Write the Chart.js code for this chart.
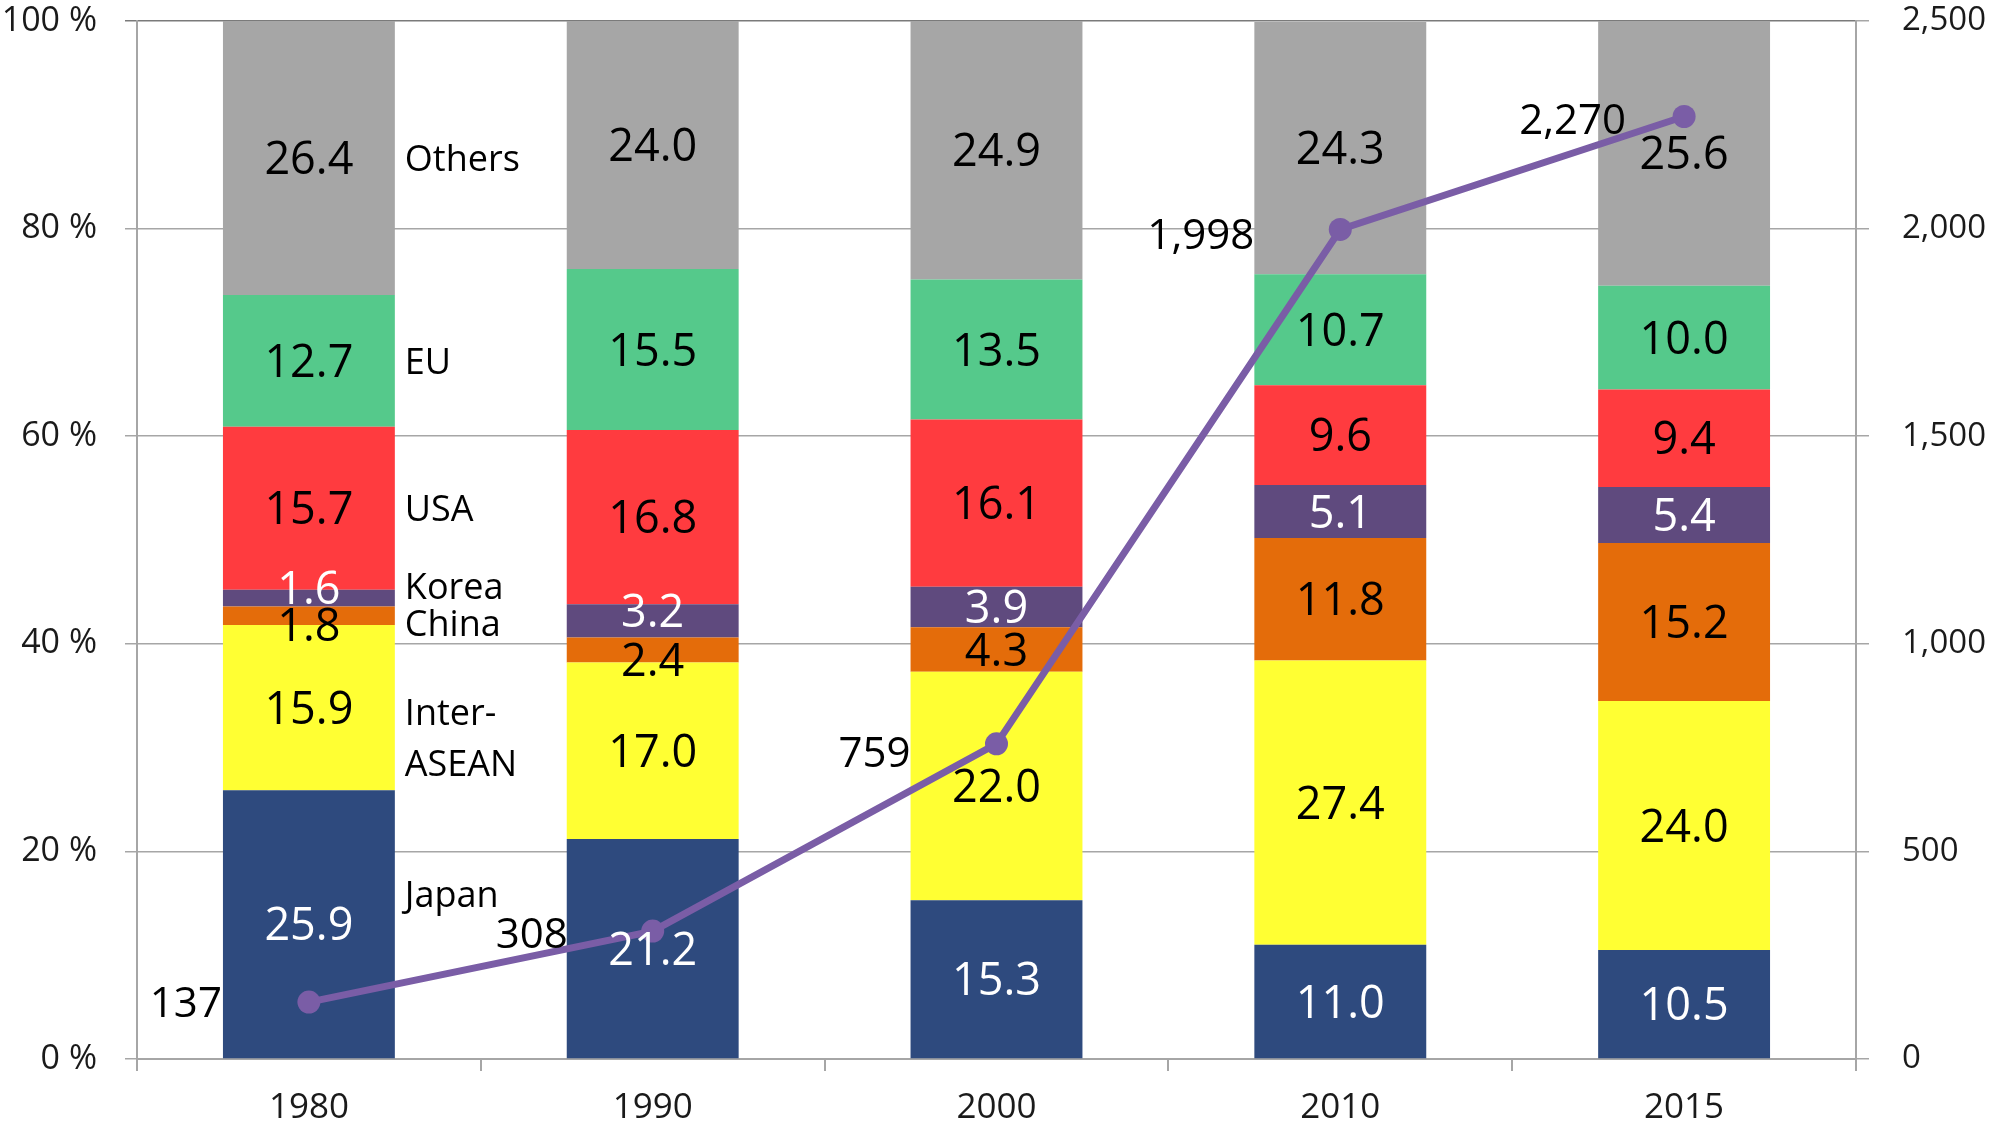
<!DOCTYPE html>
<html>
<head>
<meta charset="utf-8">
<script src="https://cdn.jsdelivr.net/npm/chart.js@4/dist/chart.umd.min.js"></script>
<style>
html,body{margin:0;padding:0;background:#fff;}
canvas{display:block;}
</style>
</head>
<body>
<canvas id="c" width="2001" height="1124"></canvas>
<script>
// ---- data ----
const years = ['1980', '1990', '2000', '2010', '2015'];
const japan      = [25.9, 21.2, 15.3, 11.0, 10.5];
const interAsean = [15.9, 17.0, 22.0, 27.4, 24.0];
const china      = [1.8, 2.4, 4.3, 11.8, 15.2];
const korea      = [1.6, 3.2, 3.9, 5.1, 5.4];
const usa        = [15.7, 16.8, 16.1, 9.6, 9.4];
const eu         = [12.7, 15.5, 13.5, 10.7, 10.0];
const others     = [26.4, 24.0, 24.9, 24.3, 25.6];
const totalTrade = [137, 308, 759, 1998, 2270];
const seriesNames = [['Japan'], ['Inter-', 'ASEAN'], ['China'], ['Korea'], ['USA'], ['EU'], ['Others']];

// ---- styles ----
const colors = ['#2E4A7E', '#FFFF33', '#E46C0A', '#5F4A7E', '#FF3B3F', '#55C98B', '#A6A6A6'];
const textColors = ['#ffffff', '#000000', '#000000', '#ffffff', '#000000', '#000000', '#000000'];
const lineColor = '#7A5DA6';
const FONT = '"Open Sans", "Noto Sans", sans-serif';
const gridColor = '#A6A6A6';

const seriesData = [japan, interAsean, china, korea, usa, eu, others];

// label nudges in pixels (style only)
const valueNudge = {'0-3': -10, '0-2': 9, '1-3': -10, '1-2': 10};
const nameNudge = [-30, 30, 7, -12, 0, 0, 0];
const lineLabelGap = [87, 85, 86, 86, 58];
const lineLabelDy = [0, 2, 8, 5, 3];

const barDatasets = seriesData.map((d, i) => ({
  type: 'bar',
  label: seriesNames[i].join(''),
  data: d,
  backgroundColor: colors[i],
  borderWidth: 0,
  yAxisID: 'y',
  stack: 's',
  order: 2,
  categoryPercentage: 1.0,
  barPercentage: 0.5
}));

const lineDataset = {
  type: 'line',
  label: 'Total trade',
  data: totalTrade,
  yAxisID: 'y2',
  borderColor: lineColor,
  backgroundColor: lineColor,
  borderWidth: 7,
  pointRadius: 11.5,
  pointBackgroundColor: lineColor,
  pointBorderWidth: 0,
  fill: false,
  tension: 0,
  order: 1
};

function drawDigits(ctx, text, x, cy, size, color, align) {
  ctx.font = size + 'px ' + FONT;
  ctx.fillStyle = color;
  ctx.textAlign = align;
  ctx.textBaseline = 'alphabetic';
  ctx.fillText(text, x, cy + size * 0.357);
}

const labelPlugin = {
  id: 'labels',
  afterDatasetsDraw(chart) {
    const ctx = chart.ctx;
    ctx.save();
    for (let i = 0; i < seriesData.length; i++) {
      const meta = chart.getDatasetMeta(i);
      meta.data.forEach((el, j) => {
        const cy = (el.y + el.base) / 2 + (valueNudge[j + '-' + i] || 0);
        drawDigits(ctx, seriesData[i][j].toFixed(1), el.x, cy, 45, textColors[i], 'center');
      });
      const first = meta.data[0];
      const props = first.getProps(['x', 'y', 'base', 'width'], true);
      const midY = (props.y + props.base) / 2 + nameNudge[i];
      const lines = seriesNames[i];
      const lh = 51;
      const x0 = props.x + props.width / 2 + 10;
      lines.forEach((t, k) => {
        const cy = midY + (k - (lines.length - 1) / 2) * lh;
        ctx.font = '36px ' + FONT;
        ctx.fillStyle = '#000';
        ctx.textAlign = 'left';
        ctx.textBaseline = 'alphabetic';
        ctx.fillText(t, x0, cy + 36 * 0.357);
      });
    }
    const lm = chart.getDatasetMeta(seriesData.length);
    lm.data.forEach((pt, j) => {
      drawDigits(ctx, totalTrade[j].toLocaleString('en-US'), pt.x - lineLabelGap[j], pt.y + lineLabelDy[j], 42, '#000', 'right');
    });
    ctx.restore();
  }
};

new Chart(document.getElementById('c'), {
  type: 'bar',
  data: { labels: years, datasets: [...barDatasets, lineDataset] },
  options: {
    responsive: false,
    animation: false,
    devicePixelRatio: 1,
    layout: { padding: { top: 21, left: 0, right: 0, bottom: 0 } },
    plugins: { legend: { display: false }, tooltip: { enabled: false } },
    scales: {
      x: {
        stacked: true,
        offset: true,
        grid: { display: true, drawOnChartArea: false, drawTicks: true, tickLength: 12, offset: true, color: gridColor, lineWidth: 2 },
        border: { display: true, color: gridColor, width: 2 },
        ticks: { color: '#1a1a1a', font: { family: FONT, size: 35 }, padding: 16, maxRotation: 0 },
        afterFit(s) { s.height = 65; s.paddingLeft = 0; s.paddingRight = 0; }
      },
      y: {
        stacked: true,
        position: 'left',
        min: 0, max: 100,
        grid: {
          color: (c) => (c.tick && c.tick.value === 100) ? '#7a7a7a' : gridColor,
          lineWidth: 1.5, tickLength: 12, drawTicks: true
        },
        border: { display: true, color: gridColor, width: 2 },
        ticks: { stepSize: 20, color: '#1a1a1a', font: { family: FONT, size: 34 }, padding: 28,
          callback: (v) => v + ' %' },
        afterFit(s) { s.width = 137; s.paddingTop = 0; s.paddingBottom = 0; }
      },
      y2: {
        stacked: false,
        position: 'right',
        min: 0, max: 2500,
        grid: { drawOnChartArea: false, drawTicks: true, tickLength: 13, color: gridColor, lineWidth: 1.5 },
        border: { display: true, color: gridColor, width: 2 },
        ticks: { stepSize: 500, color: '#1a1a1a', font: { family: FONT, size: 33 }, padding: 33,
          callback: (v) => v.toLocaleString('en-US') },
        afterFit(s) { s.width = 145; s.paddingTop = 0; s.paddingBottom = 0; }
      }
    }
  },
  plugins: [labelPlugin]
});
</script>
</body>
</html>
